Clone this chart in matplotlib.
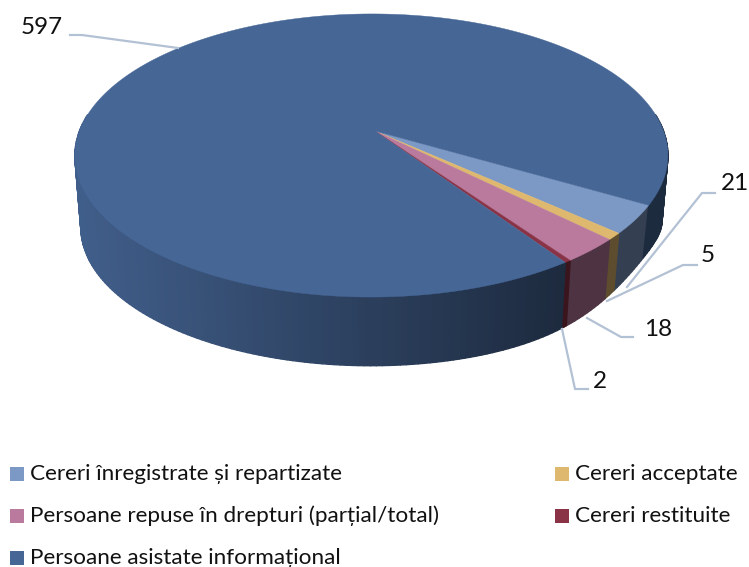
import numpy as np
import matplotlib
matplotlib.use("Agg")
import matplotlib.pyplot as plt
from matplotlib.collections import PolyCollection
from matplotlib.patches import Polygon, Rectangle

labels = [
    "Cereri înregistrate și repartizate",
    "Cereri acceptate",
    "Persoane repuse în drepturi (parțial/total)",
    "Cereri restituite",
    "Persoane asistate informațional",
]
values = [21, 5, 18, 2, 597]
colors = ["#7c98c4", "#ddb86e", "#b97a9e", "#8b3346", "#466696"]

START = 30   # degrees below the horizontal, going clockwise
X0, Y0 = 375, 131
A, B, P, Q = 292, 137.3, 0.173, -0.012
BOT_SCALE, BOT_Y0 = 0.98, 203


def project(deg):
    t = np.radians(deg)
    w = 1 - P * np.sin(t) - Q * np.cos(t)
    return X0 + A * np.cos(t) / w, Y0 + B * np.sin(t) / w


def project_bottom(deg):
    # bottom rim, pulled up a little on the right like in the picture
    x, y = project(deg)
    d = (deg + 180) % 360 - 180
    lift = 18 * np.exp(-((d - 30) / 20) ** 2)
    return X0 + BOT_SCALE * (x - X0), BOT_Y0 + BOT_SCALE * (y - Y0) - lift


def shaded(color, x):
    rgb = np.array(matplotlib.colors.to_rgb(color))
    f = np.clip(0.92 - 0.5 * (x - 80) / 480, 0.42, 0.92)
    return tuple(rgb * f)


fig = plt.figure(figsize=(7.49, 5.67), dpi=100)
ax = fig.add_axes([0, 0, 1, 1])
ax.set_xlim(0, 749)
ax.set_ylim(567, 0)
ax.axis("off")

plt.rcParams["font.family"] = ["Lato", "DejaVu Sans"]

spans = np.array(values) / sum(values) * 360
starts = START + np.concatenate([[0], np.cumsum(spans)[:-1]])

# side wall, thin strips so the shading runs along the rim
quads = []
quad_colors = []
for s, span, c in zip(starts, spans, colors):
    n = max(int(span), 2)
    th = np.linspace(s, s + span, n + 1)
    for a, b in zip(th[:-1], th[1:]):
        if np.sin(np.radians((a + b) / 2)) < -0.12:
            continue
        xa, ya = project(a)
        xb, yb = project(b)
        xc, yc = project_bottom(b)
        xd, yd = project_bottom(a)
        quads.append([(xa, ya), (xb, yb), (xc, yc), (xd, yd)])
        quad_colors.append(shaded(c, (xa + xb) / 2))
ax.add_collection(PolyCollection(quads, facecolors=quad_colors,
                                 edgecolors=quad_colors, linewidths=1.0,
                                 zorder=2))

# top face
for s, span, c in zip(starts, spans, colors):
    th = np.linspace(s, s + span, max(int(span) * 2, 4))
    xs, ys = project(th)
    pts = [(X0, Y0)] + list(zip(xs, ys))
    ax.add_patch(Polygon(pts, closed=True, facecolor=c, edgecolor=c,
                         linewidth=0.3, zorder=3))

# data labels with leader lines
label_pos = [(735, 183), (708, 256), (658, 329), (600, 381), (42, 27)]
leaders = [
    [(715, 193), (702, 193), (627, 287)],
    [(697, 265), (683, 265), (607, 301)],
    [(633, 337), (621, 337), (587, 318)],
    [(588, 389), (575, 389), (562, 329)],
    [(70, 35), (82, 35), (178, 48)],
]
for v, pos, line in zip(values, label_pos, leaders):
    ax.plot(*zip(*line), color="#b3c1d4", lw=1.6, zorder=4)
    ax.text(pos[0], pos[1], str(v), fontsize=17.5, color="#111111",
            ha="center", va="center", zorder=5)

# legend
legend_pos = [(10, 474), (555, 474), (10, 516), (555, 516), (10, 558)]
for lab, c, (x, y) in zip(labels, colors, legend_pos):
    ax.add_patch(Rectangle((x, y - 7), 14, 14, facecolor=c, edgecolor="none"))
    ax.text(x + 20, y, lab, fontsize=16.2, color="#111111", va="center")

fig.savefig("out.png", dpi=100)
